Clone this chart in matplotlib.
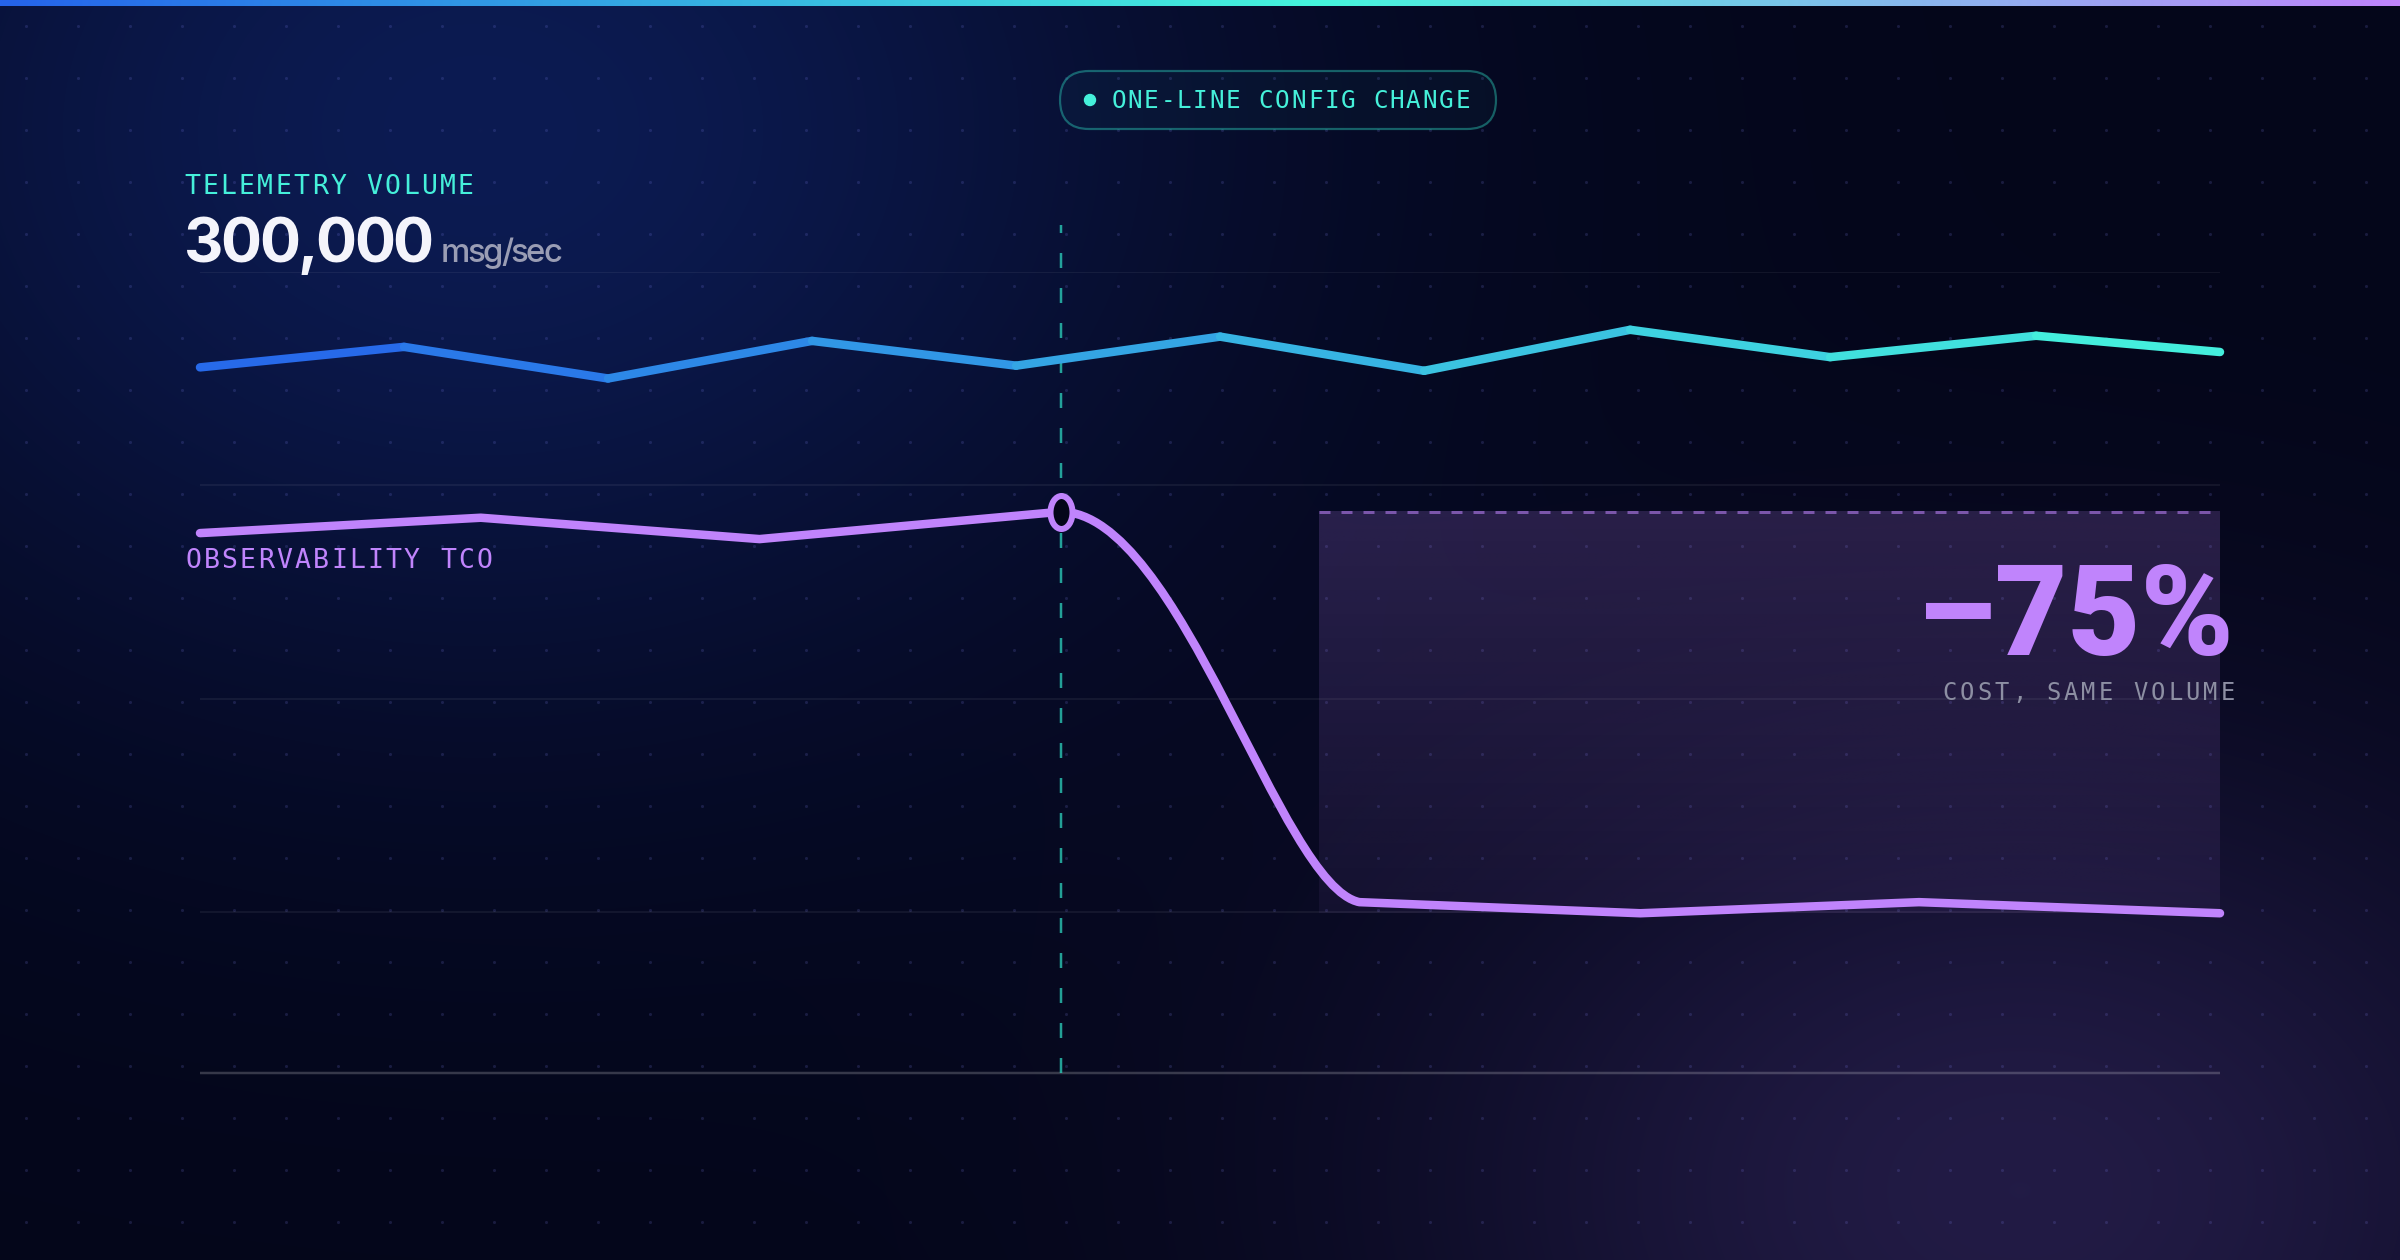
import numpy as np
import matplotlib
matplotlib.use("Agg")
import matplotlib.pyplot as plt
from matplotlib.path import Path
from matplotlib.patches import PathPatch, FancyBboxPatch, Circle
from matplotlib.collections import LineCollection
from matplotlib.colors import to_rgb
from matplotlib.font_manager import FontProperties, findfont
from matplotlib.ft2font import FT2Font

# ---------------- data ----------------
volume_x = [0, 10.1, 20.2, 30.3, 40.4, 50.5, 60.6, 70.8, 80.7, 90.9, 100]
volume_y = [88.8, 91.2, 87.5, 91.9, 89.0, 92.4, 88.4, 93.2, 90.0, 92.5, 90.6]
tco_x = [0, 13.9, 27.7, 42.6, 57.4, 71.3, 85.1, 100]
tco_y = [69.4, 71.2, 68.7, 71.9, 26.2, 24.9, 26.2, 24.9]
change_idx = 3                      # index of the config change in tco series
grid_levels = [100, 75, 50, 25]
y_floor = 6.2
y_marker_top = 105.5
savings_start_x = 55.4

title_volume = "TELEMETRY VOLUME"
volume_value = "300,000"
volume_unit = "msg/sec"
title_tco = "OBSERVABILITY TCO"
badge_text = "ONE-LINE CONFIG CHANGE"
savings_text = "\u201375%"
savings_sub = "COST, SAME VOLUME"

# ---------------- styling ----------------
W, H = 2400, 1260
DPI = 100
PX = 72.0 / DPI          # points per pixel
BG = "#04061a"
PURPLE = "#c084fc"
TEAL = "#45f0da"
BLUE0 = "#2563eb"
MONO = ["DejaVu Sans Mono"]
SANS = ["Inter", "Liberation Sans", "DejaVu Sans"]
HEAVY = ["Roboto", "Inter", "DejaVu Sans"]

fig = plt.figure(figsize=(W / DPI, H / DPI), dpi=DPI)
fig.patch.set_facecolor(BG)

def fx(x):
    return x / W

def fy(y):
    return 1 - y / H

# ---------------- background ----------------
bg_ax = fig.add_axes([0, 0, 1, 1])
bg_ax.set_xlim(0, W)
bg_ax.set_ylim(H, 0)
bg_ax.axis("off")
yy, xx = np.mgrid[0:H, 0:W].astype(float)
base = np.array(to_rgb(BG))
glow_blue = np.array(to_rgb("#0c1b52")) - base
glow_purple = np.array(to_rgb("#221b45")) - base
g1 = np.exp(-(((xx - 480) / 720) ** 2 + ((yy - 130) / 560) ** 2))
g2 = np.exp(-(((xx - 2020) / 600) ** 2 + ((yy - 1190) / 440) ** 2))
img = base + glow_blue * g1[..., None] + glow_purple * g2[..., None]
bg_ax.imshow(np.clip(img, 0, 1), extent=[0, W, H, 0], aspect="auto", zorder=0,
             interpolation="bilinear")
# dot grid
gx, gy = np.meshgrid(np.arange(26, W, 52), np.arange(26, H, 52))
bg_ax.scatter(gx.ravel(), gy.ravel(), s=5, color="#8a8cff", alpha=0.16,
              linewidths=0, zorder=1)
# top gradient bar
c0, c1, c2 = (np.array(to_rgb(c)) for c in (BLUE0, "#45f5dc", PURPLE))
t = np.linspace(0, 1, W)
bar = np.where(t[:, None] < 0.55,
               c0 + (c1 - c0) * (t[:, None] / 0.55),
               c1 + (c2 - c1) * ((t[:, None] - 0.55) / 0.45))
bg_ax.imshow(bar[None, :, :], extent=[0, W, 6, 0], aspect="auto", zorder=5)

# ---------------- main chart ----------------
ax = fig.add_axes([fx(200), fy(1073), 2020 / W, (1073 - 271.7) / H])
ax.set_xlim(0, 100)
ax.set_ylim(y_floor, 100)
ax.patch.set_alpha(0)
ax.axis("off")

# gridlines + baseline
ax.hlines(grid_levels, 0, 100, color="white", alpha=0.06, lw=2 * PX, zorder=1)
ax.hlines([y_floor], 0, 100, color="white", alpha=0.2, lw=2.5 * PX, zorder=1,
          clip_on=False)

# savings band (gradient fill)
band_top = tco_y[change_idx]
band_bot = min(tco_y[change_idx + 1:])
alpha_grad = np.linspace(0.19, 0.06, 256)
band = np.zeros((256, 2, 4))
band[..., :3] = to_rgb(PURPLE)
band[..., 3] = alpha_grad[:, None]
ax.imshow(band, extent=[savings_start_x, 100, band_bot, band_top],
          aspect="auto", zorder=2, interpolation="bilinear")
ax.plot([savings_start_x, 100], [band_top, band_top], color=PURPLE, alpha=0.55,
        lw=3 * PX, dashes=(11 / 3, 11 / 3), zorder=2.5, solid_capstyle="butt")

# change marker line
ax.plot([tco_x[change_idx]] * 2, [y_floor, y_marker_top], color="#2dd4bf",
        alpha=0.75, lw=2.5 * PX, dashes=(15 / 2.5, 20 / 2.5), zorder=3,
        clip_on=False)

# telemetry volume line with blue->teal gradient
pts = np.column_stack([volume_x, volume_y])
segs = np.stack([pts[:-1], pts[1:]], axis=1)
cA, cB = np.array(to_rgb(BLUE0)), np.array(to_rgb("#46f5dc"))
mids = (np.array(volume_x[:-1]) + np.array(volume_x[1:])) / 200.0
seg_cols = [tuple(cA + (cB - cA) * m) for m in mids]
lc = LineCollection(segs, colors=seg_cols, linewidths=8.5 * PX, zorder=4,
                    capstyle="round", joinstyle="round")
lc.set_clip_on(False)
ax.add_collection(lc)

# TCO line: straight segments, smooth drop after the change
verts, codes = [(tco_x[0], tco_y[0])], [Path.MOVETO]
for i in range(1, len(tco_x)):
    x0, y0 = tco_x[i - 1], tco_y[i - 1]
    x1, y1 = tco_x[i], tco_y[i]
    if i == change_idx + 1:
        dx = x1 - x0
        verts += [(x0 + 0.40 * dx, y0), (x0 + 0.735 * dx, y1 + 0.04 * (y0 - y1)),
                  (x1, y1)]
        codes += [Path.CURVE4] * 3
    else:
        verts.append((x1, y1))
        codes.append(Path.LINETO)
ax.add_patch(PathPatch(Path(verts, codes), fill=False, ec=PURPLE,
                       lw=8.5 * PX, capstyle="round", joinstyle="round",
                       zorder=5, clip_on=False))
# change point marker (tall ellipse)
ell = Path.unit_circle()
ell = Path(ell.vertices * np.array([0.667, 1.0]), ell.codes)
ax.plot([tco_x[change_idx]], [tco_y[change_idx]], marker=ell, ms=33 * PX,
        mfc=BG, mec=PURPLE, mew=6 * PX, zorder=6, clip_on=False, ls="none")

# ---------------- text ----------------
def tracked(left, right, baseline, s, size_pt, color, em_px):
    """Monospace label with letter spacing, spanning left..right (px)."""
    n = len(s)
    c_first = left + 0.27 * em_px
    c_last = right - 0.27 * em_px
    step = (c_last - c_first) / (n - 1)
    for i, ch in enumerate(s):
        if ch == " ":
            continue
        fig.text(fx(c_first + i * step), fy(baseline), ch, family=MONO,
                 fontsize=size_pt, color=color, ha="center", va="baseline",
                 zorder=10)


def advances(s, family, weight, size_px):
    fp = FontProperties(family=family, weight=weight)
    font = FT2Font(findfont(fp), hinting_factor=1)
    font.set_size(size_px * PX, DPI)
    return [font.load_char(ord(ch)).horiAdvance / 64.0 for ch in s]


def tight(left, right, baseline, s, weight, size_px, color):
    """Proportional text fitted to an ink span left..right (px)."""
    adv = advances(s, SANS, weight, size_px)
    natural = sum(adv) - 0.08 * size_px
    track = ((right - left) - natural) / (len(s) - 1)
    x = left - 0.04 * size_px
    for ch, a in zip(s, adv):
        fig.text(fx(x), fy(baseline), ch, family=SANS, fontweight=weight,
                 fontsize=size_px * PX, color=color, ha="left", va="baseline",
                 zorder=10)
        x += a + track


def fitted_right(right, baseline, width, s, family, weight, size_px, color,
                 max_px):
    """Single text string scaled so its width matches the reference span."""
    adv = advances(s, family, weight, size_px)
    natural = sum(adv) - 0.06 * size_px
    size = min(size_px * width / natural, max_px)
    fig.text(fx(right), fy(baseline), s, family=family, fontweight=weight,
             fontsize=size * PX, color=color, ha="right", va="baseline",
             zorder=10)


tracked(185, 473, 194.3, title_volume, 26.5 * PX, TEAL, 26.5)
tracked(186, 492, 568.0, title_tco, 26.5 * PX, PURPLE, 26.5)
tracked(1943, 2234, 700.0, savings_sub, 23.7 * PX, "#8d8fa3", 23.7)

tight(186, 431, 262.7, volume_value, "bold", 61, "#f4f4fb")
tight(442, 561, 262.0, volume_unit, "medium", 33, "#9a9db4")
fitted_right(2234, 655, 308, savings_text, HEAVY, "black", 131, PURPLE, 136)

# badge
bx0, bx1, by0, by1 = 1060, 1496, 71, 129
r = (by1 - by0) / 2
pill = FancyBboxPatch((bx0, by0), bx1 - bx0, by1 - by0,
                      boxstyle=f"round,pad=0,rounding_size={r}",
                      fc=(0.18, 0.83, 0.75, 0.04),
                      ec=(0.18, 0.83, 0.75, 0.42), lw=2.2 * PX, zorder=8)
bg_ax.add_patch(pill)
bg_ax.add_patch(Circle((1090, 100), 5.5, color=TEAL, zorder=9))
tracked(1112, 1469, 108.3, badge_text, 24.2 * PX, TEAL, 24.2)

fig.savefig("out.png", dpi=DPI, facecolor=BG)
